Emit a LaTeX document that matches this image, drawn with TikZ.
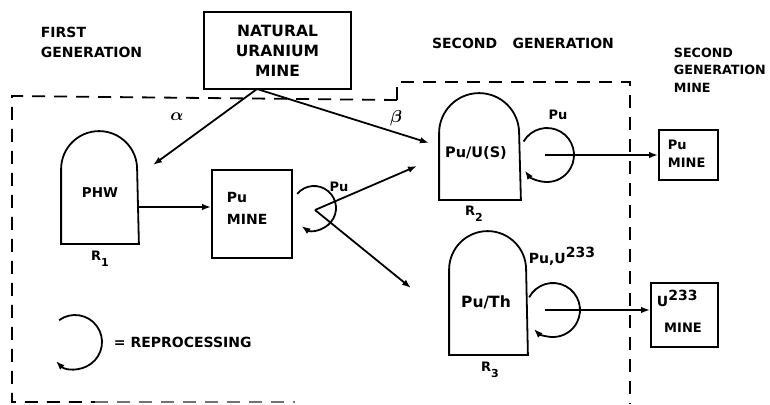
\documentclass[tikz,border=0pt]{standalone}
\usepackage{amsmath}
\usepackage{bm}
\usepackage{fontspec}
\setmainfont{DejaVu Sans}
\usetikzlibrary{arrows.meta,calc}
\begin{document}
\begin{tikzpicture}[x=1pt,y=-1pt,
  line width=1.8pt,
  arr/.style={-{Latex[length=9pt,width=6.5pt]}},
  lbl/.style={font=\bfseries\fontsize{14}{20}\selectfont, inner sep=0pt},
  smalllbl/.style={font=\bfseries\fontsize{13}{17.5}\selectfont, inner sep=0pt},
  tinylbl/.style={font=\bfseries\fontsize{13}{15}\selectfont, inner sep=0pt},
  boxed/.style={draw, inner sep=0pt, line width=1.8pt},
  zone/.style={dash pattern=on 13pt off 9pt, line width=1.8pt},
  domebox/.style={inner sep=0pt, minimum width=#1},
]
\useasboundingbox (0,0) rectangle (770,404);

% ---- zones
\draw[zone] (397,100) -- (12,96) -- (12,402) -- (95,402);
\draw[zone, black!55] (95,402) -- (295,402);
\draw[zone] (397,100) -- (397,82) -- (630,82) -- (630,404);

% ---- headings
\node[lbl, align=left, anchor=west] (fg) at (40,42) {FIRST\\GENERATION};
\node[lbl] (sg) at (523,43) {SECOND\hspace{1.1em}GENERATION};
\node[font=\bfseries\fontsize{12.7}{17.5}\selectfont, inner sep=0pt, align=left, anchor=west] (sgm) at (673,70) {SECOND\\GENERATION\\MINE};

% ---- natural uranium mine
\node[boxed, minimum width=147pt, minimum height=77pt, align=center,
      font=\bfseries\fontsize{15.5}{20}\selectfont] (num) at (277.5,50.5) {NATURAL\\URANIUM\\MINE};
\coordinate (numS) at (257,89);

% ---- reactor R1 (PHW)
\node[domebox=76pt, minimum height=111pt] (r1) at (100,187.5) {};
\draw (r1.south west) -- ([yshift=-38pt]r1.north west)
      arc[start angle=180, end angle=0, radius=38pt] -- (r1.south east) -- cycle;
\node[font=\bfseries\fontsize{13.5}{16}\selectfont, inner sep=0pt] (r1t) at (100,193) {PHW};
\node[smalllbl] (r1l) at (100,259) {R\raisebox{-6pt}{\fontsize{11}{12}\selectfont 1}};

% ---- first Pu mine
\node[boxed, minimum width=80pt, minimum height=88pt] (pum1) at (252,214) {};
\node[lbl, align=left, anchor=west] (pum1t) at (226,208) {Pu\\[2pt]MINE};
\coordinate (yy1) at (0,207);
\draw[arr] (r1.east |- yy1) -- (pum1.west |- yy1);

% loop at first Pu mine
\coordinate (c1) at (314,208);
\draw[arr] ($(c1)+(140:22pt)$) arc[start angle=140, end angle=-125, radius=22pt];
\node[tinylbl] (c1l) at (339,187) {Pu};
\coordinate (c1o) at (315,210);

% ---- reactor R2 Pu/U(S)
\node[domebox=80pt, minimum height=105pt] (r2) at (480,146.5) {};
\draw (r2.south west) -- ([yshift=-40pt]r2.north west)
      arc[start angle=180, end angle=0, radius=40pt] -- (r2.south east) -- cycle;
\node[font=\bfseries\fontsize{14.5}{16}\selectfont, inner sep=0pt] (r2t) at (476,153) {Pu/U(S)};
\node[smalllbl] (r2l) at (474,214) {R\raisebox{-6pt}{\fontsize{11}{12}\selectfont 2}};

% ---- reactor R3 Pu/Th
\node[domebox=77pt, minimum height=122pt] (r3) at (488.5,293) {};
\draw (r3.south west) -- ([yshift=-38.5pt]r3.north west)
      arc[start angle=180, end angle=0, radius=38.5pt] -- (r3.south east) -- cycle;
\node[font=\bfseries\fontsize{15.5}{16}\selectfont, inner sep=0pt] (r3t) at (486,302) {Pu/Th};
\node[smalllbl] (r3l) at (490,370) {R\raisebox{-6pt}{\fontsize{11}{12}\selectfont 3}};

% ---- arrows from natural uranium mine
\coordinate (alphaEnd) at (153,165);
\coordinate (betaEnd) at (429,143);
\draw[arr] (numS) -- (alphaEnd);
\draw[arr] (numS) -- (betaEnd);
\node[inner sep=0pt, font=\fontsize{16}{16}\selectfont] (alab) at (177,117) {$\bm{\alpha}$};
\node[inner sep=0pt, font=\fontsize{19}{19}\selectfont] (blab) at (396,118) {$\bm{\beta}$};

% ---- arrows from first loop to second generation
\coordinate (toR2) at (417,166);
\coordinate (toR3) at (411,288);
\draw[arr] (c1o) -- (toR2);
\draw[arr] (c1o) -- (toR3);

% ---- second generation Pu mine
\node[boxed, minimum width=59pt, minimum height=50pt] (pum2) at (688.5,155) {};
\node[smalllbl, align=left, anchor=west] (pum2t) at (667,154) {Pu\\[1pt]MINE};

% loop at R2
\coordinate (c2) at (547,155);
\draw[arr] ($(c2)+(150:27pt)$) arc[start angle=150, end angle=-145, radius=27pt];
\node[tinylbl] (c2l) at (558,115) {Pu};
\coordinate (c2o) at (545,155);
\draw[arr] (c2o) -- (pum2.west |- c2o);

% ---- U233 mine
\node[boxed, minimum width=67pt, minimum height=64pt] (um) at (684.5,315) {};
\node[font=\bfseries\fontsize{14}{16}\selectfont, inner sep=0pt, anchor=west] (umt1) at (656,298) {U\raisebox{6pt}{233}};
\node[smalllbl] (umt2) at (683,328) {MINE};

% loop at R3
\coordinate (c3) at (553,310);
\draw[arr] ($(c3)+(152:27pt)$) arc[start angle=152, end angle=-135, radius=27pt];
\node[font=\bfseries\fontsize{14}{16}\selectfont, inner sep=0pt, anchor=west] (c3l) at (528,256) {Pu,U\raisebox{6pt}{233}};
\coordinate (c3o) at (545,310);
\draw[arr] (c3o) -- (um.west |- c3o);

% ---- legend
\coordinate (c4) at (75,342);
\draw[arr] ($(c4)+(126:27pt)$) arc[start angle=126, end angle=-135, radius=27pt];
\node[lbl, anchor=west] (leg) at (113,342) {= REPROCESSING};

\end{tikzpicture}
\end{document}
